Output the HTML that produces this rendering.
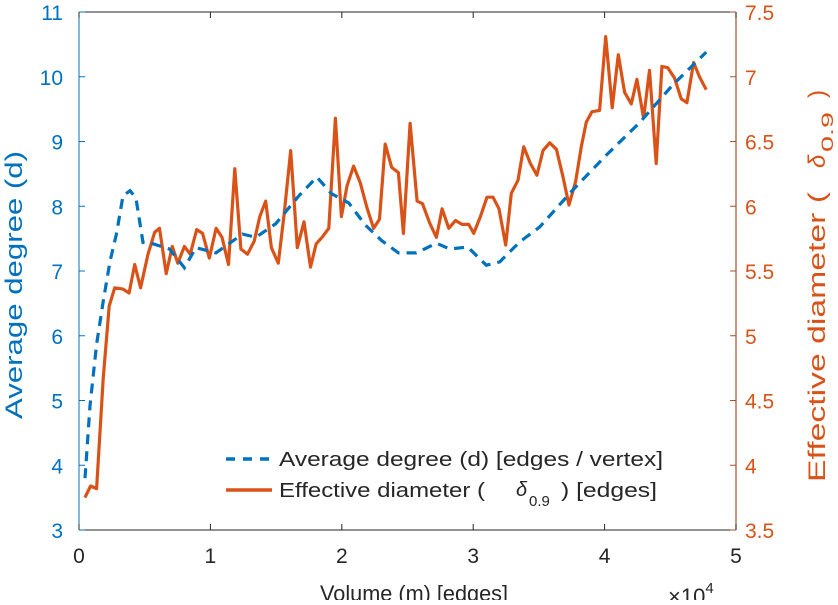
<!DOCTYPE html>
<html><head><meta charset="utf-8"><style>
body{margin:0;background:#fff;}
svg text{font-family:"Liberation Sans",sans-serif;}
</style></head><body>
<svg id="chart" width="838" height="600" viewBox="0 0 838 600" xmlns="http://www.w3.org/2000/svg">
<g id="axes"></g>
<g id="series"></g>
<g id="legend">
  <line x1="226" y1="459" x2="270" y2="459" stroke="#0072BD" stroke-width="3.5" stroke-dasharray="9,8"/>
  <text x="279" y="466" font-size="20" fill="#262626" textLength="384" lengthAdjust="spacingAndGlyphs">Average degree (d) [edges / vertex]</text>
  <line x1="226" y1="490" x2="272" y2="490" stroke="#D95319" stroke-width="3.5"/>
  <text x="279" y="497" font-size="20" fill="#262626" textLength="206" lengthAdjust="spacingAndGlyphs">Effective diameter (</text>
  <text x="516" y="496" font-size="20" font-style="italic" fill="#262626">δ</text>
  <text x="529" y="506" font-size="15" fill="#262626">0.9</text>
  <text x="561" y="497" font-size="20" fill="#262626" textLength="96" lengthAdjust="spacingAndGlyphs">) [edges]</text>
</g>
<text x="320" y="601" font-size="22" fill="#262626" textLength="188" lengthAdjust="spacingAndGlyphs">Volume (m) [edges]</text>
<text x="668" y="604" font-size="22" fill="#262626">×10<tspan font-size="15" dy="-11">4</tspan></text>
<text transform="translate(22,419) rotate(-90)" font-size="24" fill="#0072BD" textLength="268" lengthAdjust="spacingAndGlyphs">Average degree (d)</text>
<g transform="translate(825,0) rotate(-90)">
  <text x="-482" y="0" font-size="24" fill="#D95319" textLength="290" lengthAdjust="spacingAndGlyphs">Effective diameter (</text>
  <text x="-168" y="0" font-size="24" font-style="italic" fill="#D95319">δ</text>
  <text x="-152" y="8" font-size="17" fill="#D95319" textLength="40" lengthAdjust="spacingAndGlyphs">0.9</text>
  <text x="-98" y="0" font-size="24" fill="#D95319">)</text>
</g>
</svg>
<script>
const xTicks=[0,1,2,3,4,5];
const leftTicks=[3,4,5,6,7,8,9,10,11];
const rightTicks=[3.5,4,4.5,5,5.5,6,6.5,7,7.5];
const rightTickLabels=["3.5","4","4.5","5","5.5","6","6.5","7","7.5"];
const degreeX=[0.46,0.84,1.34,1.83,2.36,2.85,3.35,3.88,4.33,4.64,4.87,5.63,6.89,8.02,8.90,10.42,12.44,13.46,14.98,16.73,18.10,19.24,20.53,21.79,23.04,24.31,25.68,27.20,28.21,29.58,31.00,32.02,33.54,35.06,37.57,40.13,42.66,45.17,47.73];
const degreeY=[3.8,4.92,5.87,6.51,7.15,7.57,8.16,8.24,8.13,7.73,7.44,7.42,7.34,7.05,7.36,7.28,7.57,7.52,7.73,8.16,8.45,8.19,8.05,7.71,7.47,7.28,7.28,7.43,7.34,7.37,7.09,7.14,7.45,7.68,8.25,8.79,9.29,9.87,10.38];
const diamX=[0.45,0.88,1.34,1.84,2.30,2.72,3.35,3.81,4.24,4.69,5.25,5.76,6.13,6.64,7.10,7.52,8.02,8.46,8.96,9.41,9.92,10.43,10.88,11.38,11.86,12.32,12.82,13.33,13.76,14.21,14.64,15.17,15.60,16.11,16.61,17.12,17.62,18.05,18.50,19.01,19.51,19.97,20.40,20.90,21.41,21.91,22.42,22.87,23.30,23.80,24.31,24.69,25.20,25.73,26.14,26.69,27.20,27.63,28.14,28.65,29.15,29.66,30.04,30.55,31.05,31.51,31.96,32.47,32.90,33.41,33.84,34.35,34.85,35.31,35.82,36.33,36.83,37.29,37.79,38.23,38.61,39.04,39.62,40.08,40.58,41.04,41.52,42.03,42.46,42.97,43.42,43.93,44.36,44.81,45.32,45.83,46.26,46.77,47.22,47.73];
const diamY=[3.75,3.84,3.82,4.67,5.23,5.37,5.36,5.33,5.55,5.37,5.63,5.80,5.83,5.48,5.69,5.56,5.69,5.63,5.82,5.79,5.60,5.83,5.76,5.55,6.29,5.67,5.63,5.73,5.92,6.04,5.68,5.56,5.93,6.43,5.68,5.88,5.53,5.71,5.76,5.83,6.68,5.92,6.16,6.31,6.18,5.99,5.83,5.90,6.48,6.30,6.26,5.79,6.64,6.04,6.02,5.87,5.76,5.98,5.83,5.89,5.86,5.86,5.79,5.92,6.07,6.07,5.98,5.70,6.10,6.20,6.46,6.33,6.24,6.43,6.49,6.44,6.23,6.01,6.19,6.46,6.65,6.73,6.74,7.31,6.76,7.17,6.88,6.79,6.98,6.68,7.05,6.33,7.08,7.07,6.99,6.83,6.80,7.11,7.00,6.90];

const L=79,R=736,T=12,B=530;
const xs=v=>L+(v-0)/(5-0)*(R-L);
const xk=v=>xs(v/10);
const yl=v=>B-(v-3)/(11-3)*(B-T);
const yr=v=>B-(v-3.5)/(7.5-3.5)*(B-T);
const NS="http://www.w3.org/2000/svg";
function mk(tag,attrs,parent){const e=document.createElementNS(NS,tag);for(const k in attrs)e.setAttribute(k,attrs[k]);parent.appendChild(e);return e;}
const ax=document.getElementById('axes');
let ln=mk('line',{x1:L,y1:B,x2:R,y2:B,stroke:'#262626','stroke-width':1},ax);

ln=mk('line',{x1:L,y1:T,x2:R,y2:T,stroke:'#262626','stroke-width':1},ax);

ln=mk('line',{x1:L,y1:T,x2:L,y2:B,stroke:'#0072BD','stroke-width':1},ax);

ln=mk('line',{x1:R,y1:T,x2:R,y2:B,stroke:'#A0522D','stroke-width':1.2},ax);

xTicks.forEach(t=>{
  const x=xs(t);
  let a=mk('line',{x1:x,y1:B,x2:x,y2:B-6,stroke:'#262626'},ax);
  
  a=mk('line',{x1:x,y1:T,x2:x,y2:T+6,stroke:'#262626'},ax);
  
  const tx=mk('text',{x:x,y:B+33,'font-size':21,fill:'#262626','text-anchor':'middle'},ax);
  tx.textContent=t;
  
});
leftTicks.forEach(t=>{
  const y=yl(t);
  const a=mk('line',{x1:L,y1:y,x2:L+6,y2:y,stroke:'#0072BD'},ax);
  
  const tx=mk('text',{x:L-16,y:y+8,'font-size':21,fill:'#0072BD','text-anchor':'end'},ax);
  tx.textContent=t;
  
});
rightTicks.forEach((t,i)=>{
  const y=yr(t);
  const a=mk('line',{x1:R,y1:y,x2:R-6,y2:y,stroke:'#A0522D'},ax);
  
  const tx=mk('text',{x:R+9,y:y+8,'font-size':21,fill:'#D95319','text-anchor':'start'},ax);
  tx.textContent=rightTickLabels[i];
  
});
const sg=document.getElementById('series');
const dPts=diamX.map((x,i)=>xk(x).toFixed(1)+','+yr(diamY[i]).toFixed(1)).join(' ');
const p1=mk('polyline',{points:dPts,fill:'none',stroke:'#D95319','stroke-width':3.2,'stroke-linejoin':'round'},sg);


const gPts=degreeX.map((x,i)=>xk(x).toFixed(1)+','+yl(degreeY[i]).toFixed(1)).join(' ');
const p2=mk('polyline',{points:gPts,fill:'none',stroke:'#0072BD','stroke-width':3.2,'stroke-dasharray':'10,7'},sg);


</script>
</body></html>
